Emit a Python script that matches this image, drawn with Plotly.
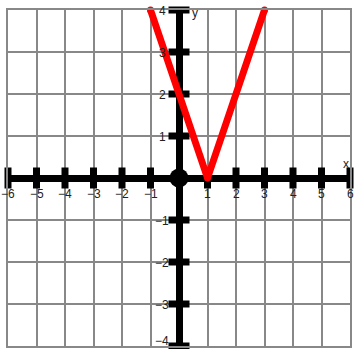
import plotly.graph_objects as go

x_ticks = [-6, -5, -4, -3, -2, -1, 1, 2, 3, 4, 5, 6]
y_ticks = [-4, -3, -2, -1, 1, 2, 3, 4]
x_labels = ["−6", "−5", "−4", "−3", "−2", "−1", "1", "2", "3", "4", "5", "6"]
y_labels = ["−4", "−3", "−2", "−1", "1", "2", "3", "4"]
line_x = [-1, 1, 3]
line_y = [4, 0, 4]

fig = go.Figure()

# x-axis tick marks
fig.add_trace(go.Scatter(x=x_ticks, y=[0] * len(x_ticks), mode="markers",
                         marker=dict(symbol="line-ns", size=15, line=dict(color="black", width=7)),
                         cliponaxis=False, hoverinfo="skip"))
# y-axis tick marks
fig.add_trace(go.Scatter(x=[0] * len(y_ticks), y=y_ticks, mode="markers",
                         marker=dict(symbol="line-ew", size=15, line=dict(color="black", width=7)),
                         cliponaxis=False, hoverinfo="skip"))
# origin dot
fig.add_trace(go.Scatter(x=[0], y=[0], mode="markers",
                         marker=dict(symbol="circle", size=19, color="black"),
                         cliponaxis=False, hoverinfo="skip"))
# red V
fig.add_trace(go.Scatter(x=line_x, y=line_y, mode="lines+markers",
                         line=dict(color="#ff0000", width=7),
                         marker=dict(color="#ff0000", size=7),
                         cliponaxis=False, hoverinfo="skip"))

font = dict(family="Liberation Sans, Arial", size=12, color="#222")
ymin = min(y_ticks)
annotations = []
for t, lab in zip(x_ticks, x_labels):
    annotations.append(dict(x=t, y=0, text=lab, showarrow=False, yshift=-16, font=font))
for t, lab in zip(y_ticks, y_labels):
    annotations.append(dict(x=0, y=t, text=lab, showarrow=False, xshift=-17,
                            yshift=(5 if t == ymin else -1), font=font))
annotations.append(dict(x=0, y=4, text="y", showarrow=False, xshift=16, yshift=-3, font=font))
annotations.append(dict(x=6, y=0, text="x", showarrow=False, xshift=-4, yshift=14, font=font))

fig.update_layout(
    width=355, height=349,
    margin=dict(l=8, r=3, t=10, b=3),
    paper_bgcolor="white", plot_bgcolor="white",
    showlegend=False,
    annotations=annotations,
    xaxis=dict(range=[-6, 6], dtick=1, tick0=0, showgrid=True, gridcolor="#888888", gridwidth=2,
               zeroline=True, zerolinecolor="black", zerolinewidth=7,
               showline=True, linecolor="#888888", linewidth=2, mirror=True,
               showticklabels=False, ticks="", fixedrange=True),
    yaxis=dict(range=[-4, 4], dtick=1, tick0=0, showgrid=True, gridcolor="#888888", gridwidth=2,
               zeroline=True, zerolinecolor="black", zerolinewidth=7,
               showline=True, linecolor="#888888", linewidth=2, mirror=True,
               showticklabels=False, ticks="", fixedrange=True),
)

fig.write_html("out.html", config={"displayModeBar": False},
               post_script="document.body.style.margin='0';")
